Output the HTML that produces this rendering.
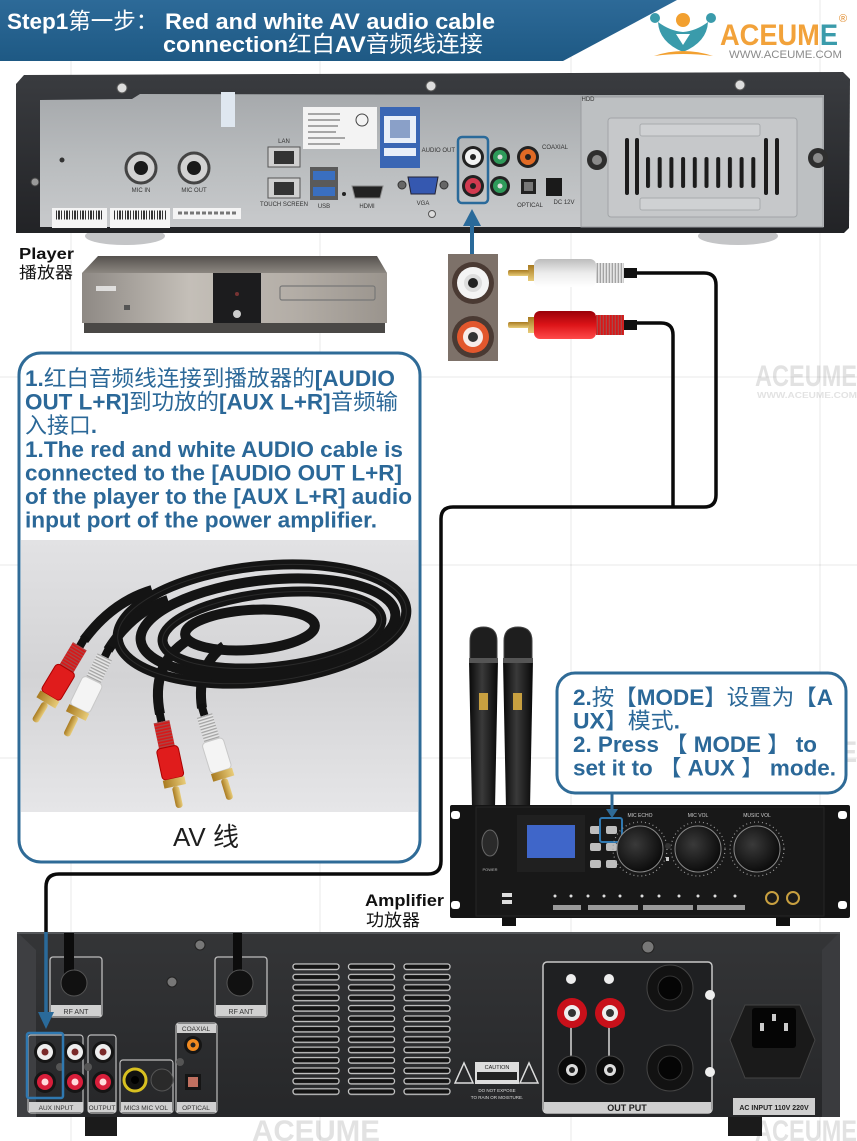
<!DOCTYPE html>
<html>
<head>
<meta charset="utf-8">
<style>
html,body{margin:0;padding:0;background:#fff;}
svg{display:block;}
text{font-family:"Liberation Sans","Noto Sans CJK SC",sans-serif;}
.n{font-weight:normal;}
.t{font-size:6px;fill:#333;text-anchor:middle;}
</style>
</head>
<body>
<svg width="857" height="1141" viewBox="0 0 857 1141" xmlns="http://www.w3.org/2000/svg">
<defs>
  <linearGradient id="hdr" x1="0" y1="0" x2="0" y2="1">
    <stop offset="0" stop-color="#2d6a98"/><stop offset="1" stop-color="#1e5984"/>
  </linearGradient>
  <linearGradient id="silver" x1="0" y1="0" x2="0" y2="1">
    <stop offset="0" stop-color="#a6a9ac"/><stop offset="0.5" stop-color="#b9bcbe"/><stop offset="1" stop-color="#c8cacc"/>
  </linearGradient>
  <linearGradient id="frame" x1="0" y1="0" x2="0" y2="1">
    <stop offset="0" stop-color="#3a3c40"/><stop offset="1" stop-color="#222326"/>
  </linearGradient>
  <linearGradient id="ptop" x1="0" y1="0" x2="0" y2="1">
    <stop offset="0" stop-color="#55514e"/><stop offset="1" stop-color="#8c8781"/>
  </linearGradient>
  <linearGradient id="pfront" x1="0" y1="0" x2="1" y2="0">
    <stop offset="0" stop-color="#8e8984"/><stop offset="0.35" stop-color="#c4bfb8"/><stop offset="0.7" stop-color="#b3ada6"/><stop offset="1" stop-color="#9a948d"/>
  </linearGradient>
  <linearGradient id="avbg" x1="0" y1="0" x2="0" y2="1">
    <stop offset="0" stop-color="#e2e2e4"/><stop offset="0.5" stop-color="#d3d3d5"/><stop offset="1" stop-color="#e6e6e8"/>
  </linearGradient>
  <linearGradient id="wshell" x1="0" y1="0" x2="0" y2="1">
    <stop offset="0" stop-color="#ffffff"/><stop offset="0.5" stop-color="#ececec"/><stop offset="1" stop-color="#bdbdbd"/>
  </linearGradient>
  <linearGradient id="rshell" x1="0" y1="0" x2="0" y2="1">
    <stop offset="0" stop-color="#ff4a4a"/><stop offset="0.5" stop-color="#dd1418"/><stop offset="1" stop-color="#9a0008"/>
  </linearGradient>
  <linearGradient id="gold" x1="0" y1="0" x2="0" y2="1">
    <stop offset="0" stop-color="#e8cc7a"/><stop offset="1" stop-color="#a87a20"/>
  </linearGradient>
  <linearGradient id="amp" x1="0" y1="0" x2="0" y2="1">
    <stop offset="0" stop-color="#343537"/><stop offset="1" stop-color="#262729"/>
  </linearGradient>
  <linearGradient id="mic" x1="0" y1="0" x2="1" y2="0">
    <stop offset="0" stop-color="#080808"/><stop offset="0.45" stop-color="#3a3a3a"/><stop offset="1" stop-color="#080808"/>
  </linearGradient>
  <radialGradient id="knob" cx="0.4" cy="0.4" r="0.7">
    <stop offset="0" stop-color="#3a3a3a"/><stop offset="1" stop-color="#050505"/>
  </radialGradient>
  <pattern id="vent" x="292" y="962" width="55.5" height="10.4" patternUnits="userSpaceOnUse">
    <rect x="1" y="2" width="46" height="5.5" rx="2.5" fill="#141414" stroke="#c4c4c4" stroke-width="1.3"/>
  </pattern>
  <pattern id="hslot" x="646" y="157" width="11.7" height="31" patternUnits="userSpaceOnUse">
    <rect x="0" y="0" width="4" height="31" rx="2" fill="#1c1c1c"/>
  </pattern>
  <pattern id="ridge" x="0" y="0" width="3" height="10" patternUnits="userSpaceOnUse">
    <rect x="0" y="0" width="1.3" height="10" fill="#777"/>
  </pattern>
  <g id="plugW">
    <rect x="0" y="-4" width="12" height="8" fill="#111"/>
    <rect x="12" y="-8" width="26" height="16" fill="#e6e6e6"/>
    <rect x="12" y="-8" width="26" height="16" fill="url(#ridge)" opacity="0.6"/>
    <rect x="38" y="-11" width="32" height="22" rx="4" fill="#f4f4f4" stroke="#c8c8c8"/>
    <rect x="70" y="-11" width="8" height="22" fill="url(#gold)"/>
    <rect x="78" y="-3.5" width="22" height="7" rx="3" fill="url(#gold)"/>
  </g>
  <g id="plugR">
    <rect x="0" y="-4" width="12" height="8" fill="#111"/>
    <rect x="12" y="-8" width="26" height="16" fill="#d81818"/>
    <rect x="12" y="-8" width="26" height="16" fill="url(#ridge)" opacity="0.5"/>
    <rect x="38" y="-11" width="32" height="22" rx="4" fill="#e01c1c" stroke="#a00"/>
    <rect x="70" y="-11" width="8" height="22" fill="url(#gold)"/>
    <rect x="78" y="-3.5" width="22" height="7" rx="3" fill="url(#gold)"/>
  </g>
</defs>

<rect width="857" height="1141" fill="#fff"/>

<!-- faint grid lines -->
<g stroke="#000" stroke-opacity="0.09" stroke-width="1">
  <line x1="71" y1="0" x2="71" y2="1141"/>
  <line x1="320" y1="0" x2="320" y2="1141"/>
  <line x1="571" y1="0" x2="571" y2="1141"/>
  <line x1="820" y1="0" x2="820" y2="1141"/>
  <line x1="0" y1="377" x2="857" y2="377"/>
  <line x1="0" y1="565" x2="857" y2="565"/>
  <line x1="0" y1="758" x2="857" y2="758"/>
</g>

<!-- watermarks -->
<g fill="#9a9a9a" opacity="0.28" font-weight="bold">
  <text x="755" y="386" font-size="30" textLength="102" lengthAdjust="spacingAndGlyphs">ACEUME</text>
  <text x="757" y="398" font-size="8" textLength="100" lengthAdjust="spacingAndGlyphs">WWW.ACEUME.COM</text>
  <text x="252" y="762" font-size="30" textLength="128" lengthAdjust="spacingAndGlyphs">ACEUME</text>
  <text x="258" y="776" font-size="8" textLength="120" lengthAdjust="spacingAndGlyphs">WWW.ACEUME.COM</text>
  <text x="755" y="762" font-size="30" textLength="102" lengthAdjust="spacingAndGlyphs">ACEUME</text>
  <text x="252" y="1141" font-size="30" textLength="128" lengthAdjust="spacingAndGlyphs">ACEUME</text>
  <text x="755" y="1141" font-size="30" textLength="102" lengthAdjust="spacingAndGlyphs">ACEUME</text>
</g>

<!-- HEADER -->
<polygon points="0,0 677,0 563,61 0,61" fill="url(#hdr)"/>
<text x="7" y="29" font-size="22.5" font-weight="bold" fill="#fff">Step1<tspan class="n">第一步：</tspan></text>
<text x="165" y="29" font-size="22.5" font-weight="bold" fill="#fff" textLength="330" lengthAdjust="spacingAndGlyphs">Red and white AV audio cable</text>
<text x="163" y="52" font-size="22.5" font-weight="bold" fill="#fff" textLength="320" lengthAdjust="spacingAndGlyphs">connection<tspan class="n">红白</tspan>AV<tspan class="n">音频线连接</tspan></text>

<!-- LOGO -->
<g>
  <circle cx="655" cy="18" r="5" fill="#3a9bab"/>
  <circle cx="711" cy="18" r="5" fill="#3a9bab"/>
  <circle cx="683" cy="20" r="7" fill="#f2a030"/>
  <path d="M658,22 Q670,31 683,32 Q696,31 708,22 Q707,42 683,52 Q659,42 658,22 Z" fill="#3a9bab"/>
  <polygon points="676,34 690,34 683,45" fill="#fff"/>
  <path d="M654,56 Q683,46 713,56 Q683,52 654,56 Z" fill="#f2a030"/>
  <text x="720" y="45" font-family="Liberation Serif" font-size="30" font-weight="bold" fill="#f2a23a" textLength="118" lengthAdjust="spacingAndGlyphs">ACEUM<tspan fill="#3a9bab">E</tspan></text>
  <text x="839" y="22" font-size="11" fill="#e08a2a">®</text>
  <text x="729" y="58" font-family="Liberation Serif" font-size="11" fill="#8a8a8a" textLength="113" lengthAdjust="spacingAndGlyphs">WWW.ACEUME.COM</text>
</g>

<!-- PLAYER BACK -->
<g>
  <ellipse cx="125" cy="236" rx="40" ry="9" fill="#c4c5c7"/>
  <ellipse cx="738" cy="236" rx="40" ry="9" fill="#c4c5c7"/>
  <path d="M16,84 L24,75 L843,72 L850,79 L849,228 L844,233 L16,233 Z" fill="url(#frame)"/>
  <path d="M40,100 L40,227 L824,227 L824,95 L600,95 L140,94 L132,99 Z" fill="url(#silver)"/>
  <rect x="581" y="97" width="242" height="130" fill="#bdc0c2" stroke="#9a9da0"/>
  <rect x="608" y="118" width="189" height="99" rx="3" fill="#c6c8ca" stroke="#a2a5a8"/>
  <rect x="640" y="124" width="120" height="12" rx="2" fill="#cfd1d3" stroke="#a8abae"/>
  <rect x="640" y="198" width="120" height="12" rx="2" fill="#cfd1d3" stroke="#a8abae"/>
  <rect x="625" y="138" width="4" height="57" rx="2" fill="#1c1c1c"/>
  <rect x="635" y="138" width="4" height="57" rx="2" fill="#1c1c1c"/>
  <rect x="646" y="157" width="117" height="31" fill="url(#hslot)"/>
  <rect x="764" y="138" width="4" height="57" rx="2" fill="#1c1c1c"/>
  <rect x="775" y="138" width="4" height="57" rx="2" fill="#1c1c1c"/>
  <circle cx="597" cy="160" r="10" fill="#2e2e2e"/><circle cx="597" cy="160" r="5" fill="#8a8a8a"/>
  <circle cx="818" cy="158" r="10" fill="#2e2e2e"/><circle cx="818" cy="158" r="5" fill="#8a8a8a"/>
  <text x="588" y="101" class="t">HDD</text>
  <circle cx="122" cy="88" r="5" fill="#ddd" stroke="#555"/>
  <circle cx="431" cy="86" r="5" fill="#ddd" stroke="#555"/>
  <circle cx="740" cy="85" r="5" fill="#ddd" stroke="#555"/>
  <circle cx="35" cy="182" r="4" fill="#999" stroke="#444"/>
  <circle cx="62" cy="160" r="2.5" fill="#333"/>
  <rect x="221" y="92" width="14" height="35" fill="#dfe7f0"/>
  <rect x="303" y="107" width="74" height="42" fill="#f3f3f3"/>
  <g stroke="#777" stroke-width="1.2">
    <line x1="308" y1="114" x2="340" y2="114"/><line x1="308" y1="120" x2="340" y2="120"/><line x1="308" y1="126" x2="338" y2="126"/>
    <line x1="308" y1="132" x2="336" y2="132"/><line x1="308" y1="138" x2="345" y2="138"/><line x1="308" y1="144" x2="340" y2="144"/>
  </g>
  <circle cx="362" cy="120" r="6" fill="none" stroke="#444"/>
  <rect x="380" y="107" width="40" height="61" fill="#3a66b4"/>
  <rect x="384" y="116" width="32" height="27" fill="#e8eef8"/>
  <rect x="390" y="120" width="20" height="18" fill="#8aa0c8"/>
  <rect x="384" y="148" width="32" height="8" fill="#e8eef8"/>
  <rect x="52" y="208" width="55" height="20" fill="#f4f4f4"/>
  <line x1="56" y1="215" x2="103" y2="215" stroke="#333" stroke-width="9" stroke-dasharray="1 1 2 1 1 2"/>
  <rect x="110" y="208" width="60" height="20" fill="#f4f4f4"/>
  <line x1="114" y1="215" x2="166" y2="215" stroke="#333" stroke-width="9" stroke-dasharray="1 2 1 1 2 1"/>
  <rect x="173" y="208" width="68" height="11" fill="#f4f4f4"/>
  <line x1="178" y1="213" x2="236" y2="213" stroke="#777" stroke-width="3" stroke-dasharray="4 2"/>
  <circle cx="141" cy="168" r="15" fill="#d2d2d2" stroke="#444" stroke-width="3"/>
  <circle cx="141" cy="168" r="7" fill="#1a1a1a"/>
  <circle cx="194" cy="168" r="15" fill="#d2d2d2" stroke="#444" stroke-width="3"/>
  <circle cx="194" cy="168" r="7" fill="#1a1a1a"/>
  <text x="141" y="192" class="t">MIC IN</text>
  <text x="194" y="192" class="t">MIC OUT</text>
  <text x="284" y="143" class="t">LAN</text>
  <rect x="268" y="147" width="32" height="20" fill="#cfcfcf" stroke="#555"/>
  <rect x="274" y="151" width="20" height="13" fill="#333"/>
  <rect x="268" y="178" width="32" height="20" fill="#cfcfcf" stroke="#555"/>
  <rect x="274" y="182" width="20" height="13" fill="#333"/>
  <text x="284" y="206" class="t">TOUCH SCREEN</text>
  <rect x="310" y="167" width="28" height="33" fill="#5a5a5a"/>
  <rect x="313" y="171" width="22" height="9" fill="#3a6fc0"/>
  <rect x="313" y="187" width="22" height="9" fill="#3a6fc0"/>
  <text x="324" y="208" class="t">USB</text>
  <circle cx="344" cy="194" r="2" fill="#222"/>
  <path d="M352,186 L383,186 L380,198 L355,198 Z" fill="#222" stroke="#888"/>
  <text x="367" y="208" class="t">HDMI</text>
  <circle cx="402" cy="185" r="4" fill="#666" stroke="#333"/>
  <circle cx="444" cy="185" r="4" fill="#666" stroke="#333"/>
  <path d="M408,177 L438,177 L435,194 L411,194 Z" fill="#3558b0" stroke="#223"/>
  <text x="423" y="205" class="t">VGA</text>
  <circle cx="432" cy="214" r="3.5" fill="#ddd" stroke="#555"/>
  <text x="455" y="152" class="t" style="text-anchor:end">AUDIO OUT</text>
  <circle cx="473" cy="157" r="11" fill="#222"/><circle cx="473" cy="157" r="8" fill="#f2f2f2"/><circle cx="473" cy="157" r="3" fill="#222"/>
  <circle cx="473" cy="186" r="11" fill="#222"/><circle cx="473" cy="186" r="8" fill="#d23a50"/><circle cx="473" cy="186" r="3" fill="#222"/>
  <rect x="458" y="137" width="30" height="66" rx="4" fill="none" stroke="#2a6a9a" stroke-width="2.5"/>
  <circle cx="500" cy="157" r="10" fill="#222"/><circle cx="500" cy="157" r="7" fill="#2e9a5a"/><circle cx="500" cy="157" r="2.5" fill="#ddd"/>
  <circle cx="500" cy="186" r="10" fill="#222"/><circle cx="500" cy="186" r="7" fill="#2e9a5a"/><circle cx="500" cy="186" r="2.5" fill="#ddd"/>
  <circle cx="528" cy="157" r="11" fill="#222"/><circle cx="528" cy="157" r="8" fill="#e06a25"/><circle cx="528" cy="157" r="3" fill="#222"/>
  <text x="555" y="149" class="t">COAXIAL</text>
  <rect x="521" y="179" width="15" height="15" fill="#222"/><rect x="524" y="182" width="9" height="9" fill="#777"/>
  <text x="530" y="207" class="t">OPTICAL</text>
  <rect x="546" y="178" width="16" height="18" fill="#1a1a1a"/>
  <text x="564" y="204" class="t">DC 12V</text>
</g>

<!-- Player label -->
<text x="19" y="259" font-size="16" font-weight="bold" fill="#111" textLength="55" lengthAdjust="spacingAndGlyphs">Player</text>
<text x="19" y="278" font-size="16" fill="#111" textLength="54" lengthAdjust="spacingAndGlyphs">播放器</text>

<!-- small player -->
<g>
  <polygon points="98,256 377,256 387,273 82,273" fill="url(#ptop)"/>
  <rect x="82" y="273" width="305" height="50" fill="url(#pfront)"/>
  <rect x="213" y="273" width="48" height="50" fill="#1c1c1e"/>
  <circle cx="237" cy="314" r="4" fill="#ccc"/>
  <circle cx="237" cy="294" r="2" fill="#733"/>
  <rect x="96" y="286" width="20" height="5" fill="#f0f0f0" opacity="0.8"/>
  <rect x="124" y="305" width="6" height="5" fill="#555"/>
  <g fill="none" stroke="#777" stroke-width="1.2">
    <rect x="280" y="286" width="95" height="14" rx="2"/>
  </g>
  <rect x="84" y="323" width="301" height="10" fill="#4a4846"/>
</g>

<!-- RCA inset -->
<g>
  <rect x="448" y="254" width="50" height="107" fill="#7d7169"/>
  <circle cx="473" cy="283" r="21" fill="#4a3a33"/>
  <circle cx="473" cy="283" r="16" fill="#f4f4f4"/>
  <circle cx="473" cy="283" r="9" fill="#ddd"/>
  <circle cx="473" cy="283" r="5" fill="#222"/>
  <circle cx="473" cy="337" r="21" fill="#4a3a33"/>
  <circle cx="473" cy="337" r="16" fill="#e2572d"/>
  <circle cx="473" cy="337" r="10" fill="#f6ecea"/>
  <circle cx="473" cy="337" r="5" fill="#333"/>
</g>
<line x1="472" y1="254" x2="472" y2="222" stroke="#2a6a9a" stroke-width="4"/>
<polygon points="463,226 481,226 472,209" fill="#2a6a9a"/>

<!-- cable path -->
<path d="M636,273 H704 Q716,273 716,285 V495 Q716,507 704,507 H453 Q441,507 441,519 V861 Q441,874 428,874 H59 Q46,874 46,887 V932" fill="none" stroke="#0a0a0a" stroke-width="3.5"/>
<path d="M636,323 H661 Q673,323 673,335 V507" fill="none" stroke="#0a0a0a" stroke-width="3.5"/>

<!-- plugs (horizontal) -->
<g transform="translate(637,273) rotate(180)">
  <rect x="0" y="-5" width="13" height="10" fill="#111"/>
  <rect x="13" y="-10" width="28" height="20" fill="#e4e4e4"/>
  <rect x="13" y="-10" width="28" height="20" fill="url(#ridge)" opacity="0.6"/>
  <rect x="41" y="-14" width="62" height="28" rx="6" fill="url(#wshell)"/>
  <rect x="103" y="-8" width="6" height="16" fill="url(#gold)"/>
  <rect x="108" y="-3" width="21" height="6" rx="2" fill="url(#gold)"/>
</g>
<g transform="translate(637,325) rotate(180)">
  <rect x="0" y="-5" width="13" height="10" fill="#111"/>
  <rect x="13" y="-10" width="28" height="20" fill="#d81818"/>
  <rect x="13" y="-10" width="28" height="20" fill="url(#ridge)" opacity="0.5"/>
  <rect x="41" y="-14" width="62" height="28" rx="6" fill="url(#rshell)"/>
  <rect x="103" y="-8" width="6" height="16" fill="url(#gold)"/>
  <rect x="108" y="-3" width="21" height="6" rx="2" fill="url(#gold)"/>
</g>

<!-- TEXT BOX 1 -->
<rect x="19" y="353" width="401" height="509" rx="22" fill="#fff" stroke="#2f6b97" stroke-width="3"/>
<g font-size="22" font-weight="bold" fill="#2b6898">
  <text x="25" y="386" textLength="370" lengthAdjust="spacingAndGlyphs">1.<tspan class="n">红白音频线连接到播放器的</tspan>[AUDIO</text>
  <text x="25" y="409.6" textLength="373" lengthAdjust="spacingAndGlyphs">OUT L+R]<tspan class="n">到功放的</tspan>[AUX L+R]<tspan class="n">音频输</tspan></text>
  <text x="25" y="433" textLength="72" lengthAdjust="spacingAndGlyphs"><tspan class="n">入接口</tspan>.</text>
  <text x="25" y="457" textLength="378" lengthAdjust="spacingAndGlyphs">1.The red and white AUDIO cable is</text>
  <text x="25" y="480.5" textLength="377" lengthAdjust="spacingAndGlyphs">connected to the [AUDIO OUT L+R]</text>
  <text x="25" y="504" textLength="387" lengthAdjust="spacingAndGlyphs">of the player to the [AUX L+R] audio</text>
  <text x="25" y="527.5" textLength="352" lengthAdjust="spacingAndGlyphs">input port of the power amplifier.</text>
</g>
<rect x="21" y="540" width="397" height="272" fill="url(#avbg)"/>
<g fill="none" stroke="#141414" stroke-width="10">
  <ellipse cx="262" cy="624" rx="145" ry="58" transform="rotate(-6 262 624)"/>
  <ellipse cx="268" cy="627" rx="128" ry="47" transform="rotate(-6 268 627)"/>
  <ellipse cx="272" cy="630" rx="110" ry="37" transform="rotate(-6 272 630)"/>
  <ellipse cx="250" cy="630" rx="65" ry="20" transform="rotate(-4 250 630)"/>
  <path d="M84,640 Q112,602 152,590"/>
  <path d="M108,650 Q132,612 168,600"/>
  <path d="M160,714 Q150,664 188,640"/>
  <path d="M202,708 Q196,666 224,646"/>
</g>
<g stroke="#3a3a3a" stroke-width="1" fill="none" opacity="0.6">
  <ellipse cx="262" cy="624" rx="145" ry="58" transform="rotate(-6 262 624)"/>
  <ellipse cx="272" cy="630" rx="110" ry="37" transform="rotate(-6 272 630)"/>
</g>
<use href="#plugR" transform="translate(86,636) rotate(121)"/>
<use href="#plugW" transform="translate(110,646) rotate(116)"/>
<use href="#plugR" transform="translate(159,710) rotate(78)"/>
<use href="#plugW" transform="translate(201,704) rotate(73)"/>
<text x="206" y="846" font-size="26" fill="#1e1e1e" text-anchor="middle">AV 线</text>

<!-- MICROPHONES -->
<g>
  <path d="M469,660 L498,660 L495,808 L472,808 Z" fill="url(#mic)"/>
  <path d="M470,660 L470,641 Q470,627 483.5,627 Q497,627 497,641 L497,660 Z" fill="#1e1e1e" stroke="#444"/>
  <rect x="469" y="658" width="29" height="5" fill="#555"/>
  <rect x="479" y="693" width="9" height="17" fill="#c8a040"/>
  <path d="M503,660 L533,660 L530,808 L506,808 Z" fill="url(#mic)"/>
  <path d="M504,660 L504,641 Q504,627 518,627 Q532,627 532,641 L532,660 Z" fill="#1e1e1e" stroke="#444"/>
  <rect x="503" y="658" width="30" height="5" fill="#555"/>
  <rect x="513" y="693" width="9" height="17" fill="#c8a040"/>
</g>

<!-- TEXT BOX 2 -->
<rect x="557" y="673" width="289" height="120" rx="18" fill="#fff" stroke="#2f6b97" stroke-width="3"/>
<g font-size="22" font-weight="bold" fill="#2b6898">
  <text x="573" y="705" textLength="260" lengthAdjust="spacingAndGlyphs">2.<tspan class="n">按【</tspan>MODE<tspan class="n">】设置为【</tspan>A</text>
  <text x="573" y="728.5" textLength="107" lengthAdjust="spacingAndGlyphs">UX<tspan class="n">】模式</tspan>.</text>
  <text x="573" y="752" textLength="244" lengthAdjust="spacingAndGlyphs">2. Press <tspan class="n">【</tspan> MODE <tspan class="n">】</tspan> to</text>
  <text x="573" y="775.5" textLength="263" lengthAdjust="spacingAndGlyphs">set it to <tspan class="n">【</tspan> AUX <tspan class="n">】</tspan> mode.</text>
</g>

<!-- SMALL AMP FRONT -->
<g>
  <rect x="450" y="805" width="400" height="113" rx="2" fill="#141414"/>
  <rect x="476" y="807" width="348" height="109" fill="#181818" stroke="#262626"/>
  <rect x="451" y="811" width="9" height="8" rx="3" fill="#fff"/>
  <rect x="451" y="901" width="9" height="8" rx="3" fill="#fff"/>
  <rect x="838" y="811" width="9" height="8" rx="3" fill="#fff"/>
  <rect x="838" y="901" width="9" height="8" rx="3" fill="#fff"/>
  <ellipse cx="490" cy="843" rx="8" ry="13" fill="#2a2a2a" stroke="#666"/>
  <text x="490" y="871" font-size="4" fill="#bbb" text-anchor="middle">POWER</text>
  <rect x="517" y="815" width="68" height="57" fill="#202020"/>
  <rect x="527" y="825" width="48" height="33" fill="#3f66c9"/>
  <g fill="#bdbdbd">
    <rect x="590" y="826" width="11" height="8" rx="2"/><rect x="606" y="826" width="11" height="8" rx="2"/>
    <rect x="590" y="843" width="11" height="8" rx="2"/><rect x="606" y="843" width="11" height="8" rx="2"/>
    <rect x="590" y="860" width="11" height="8" rx="2"/><rect x="606" y="860" width="11" height="8" rx="2"/>
  </g>
  <rect x="600" y="818" width="22" height="24" rx="2" fill="none" stroke="#2f78b0" stroke-width="2"/>
  <g font-size="5" fill="#ccc" text-anchor="middle">
    <text x="640" y="817">MIC ECHO</text><text x="698" y="817">MIC VOL</text><text x="757" y="817">MUSIC VOL</text>
  </g>
  <g>
    <circle cx="640" cy="849" r="27" fill="none" stroke="#999" stroke-width="1.2" stroke-dasharray="1 3"/>
    <circle cx="640" cy="849" r="23" fill="url(#knob)" stroke="#888"/>
    <circle cx="698" cy="849" r="27" fill="none" stroke="#999" stroke-width="1.2" stroke-dasharray="1 3"/>
    <circle cx="698" cy="849" r="23" fill="url(#knob)" stroke="#888"/>
    <circle cx="757" cy="849" r="27" fill="none" stroke="#999" stroke-width="1.2" stroke-dasharray="1 3"/>
    <circle cx="757" cy="849" r="23" fill="url(#knob)" stroke="#888"/>
    <circle cx="668" cy="846" r="3" fill="#333"/>
    <rect x="666" y="857" width="3" height="4" fill="#ccc"/>
  </g>
  <g fill="#ddd">
    <circle cx="555" cy="896" r="1.5"/><circle cx="571" cy="896" r="1.5"/><circle cx="588" cy="896" r="1.5"/><circle cx="604" cy="896" r="1.5"/>
    <circle cx="620" cy="896" r="1.5"/><circle cx="642" cy="896" r="1.5"/><circle cx="659" cy="896" r="1.5"/><circle cx="679" cy="896" r="1.5"/>
    <circle cx="698" cy="896" r="1.5"/><circle cx="715" cy="896" r="1.5"/><circle cx="735" cy="896" r="1.5"/>
  </g>
  <g fill="#9a9a9a">
    <rect x="553" y="905" width="28" height="5"/><rect x="588" y="905" width="50" height="5"/>
    <rect x="643" y="905" width="50" height="5"/><rect x="697" y="905" width="48" height="5"/>
  </g>
  <rect x="502" y="893" width="10" height="4" fill="#ddd"/><rect x="502" y="900" width="10" height="4" fill="#ddd"/>
  <circle cx="772" cy="898" r="6" fill="#1a1a1a" stroke="#c8a040" stroke-width="2"/>
  <circle cx="793" cy="898" r="6" fill="#1a1a1a" stroke="#c8a040" stroke-width="2"/>
  <rect x="502" y="918" width="14" height="8" fill="#111"/>
  <rect x="776" y="918" width="14" height="8" fill="#111"/>
</g>
<line x1="612" y1="794" x2="612" y2="811" stroke="#2f6b97" stroke-width="3"/>
<polygon points="606,809 618,809 612,818" fill="#2f6b97"/>

<!-- Amplifier label -->
<text x="365" y="906" font-size="17" font-weight="bold" fill="#111" textLength="79" lengthAdjust="spacingAndGlyphs">Amplifier</text>
<text x="366" y="926" font-size="17" fill="#111" textLength="54" lengthAdjust="spacingAndGlyphs">功放器</text>

<!-- BIG AMP REAR -->
<g>
  <rect x="85" y="1112" width="32" height="24" fill="#1b1b1b"/>
  <rect x="728" y="1112" width="34" height="24" fill="#1b1b1b"/>
  <rect x="17" y="932" width="823" height="185" fill="url(#amp)"/>
  <polygon points="17,932 36,950 36,1117 17,1117" fill="#3e3f42"/>
  <polygon points="840,932 822,950 822,1117 840,1117" fill="#3a3b3e"/>
  <line x1="17" y1="933" x2="840" y2="933" stroke="#55575a" stroke-width="2"/>
  <circle cx="200" cy="945" r="5" fill="#777" stroke="#222"/>
  <circle cx="172" cy="982" r="5" fill="#777" stroke="#222"/>
  <circle cx="648" cy="947" r="6" fill="#777" stroke="#222"/>
  <rect x="50" y="957" width="52" height="60" rx="3" fill="none" stroke="#bdbdbd" stroke-width="1.3"/>
  <rect x="51" y="1005" width="50" height="11" fill="#d0d0d0"/>
  <text x="76" y="1014" font-size="7" fill="#333" text-anchor="middle">RF ANT</text>
  <rect x="64" y="933" width="10" height="45" fill="#0c0c0c"/>
  <circle cx="74" cy="983" r="13" fill="#111" stroke="#555"/>
  <rect x="215" y="957" width="52" height="60" rx="3" fill="none" stroke="#bdbdbd" stroke-width="1.3"/>
  <rect x="216" y="1005" width="50" height="11" fill="#d0d0d0"/>
  <text x="241" y="1014" font-size="7" fill="#333" text-anchor="middle">RF ANT</text>
  <rect x="233" y="933" width="9" height="45" fill="#0c0c0c"/>
  <circle cx="240" cy="983" r="13" fill="#111" stroke="#555"/>
  <rect x="28" y="1035" width="55" height="78" rx="3" fill="none" stroke="#bdbdbd" stroke-width="1.2"/>
  <rect x="88" y="1035" width="28" height="78" rx="3" fill="none" stroke="#bdbdbd" stroke-width="1.2"/>
  <rect x="120" y="1060" width="53" height="53" rx="3" fill="none" stroke="#bdbdbd" stroke-width="1.2"/>
  <rect x="176" y="1023" width="41" height="90" rx="3" fill="none" stroke="#bdbdbd" stroke-width="1.2"/>
  <g>
    <circle cx="45" cy="1052" r="11" fill="#151515"/><circle cx="45" cy="1052" r="8" fill="#eee"/><circle cx="45" cy="1052" r="3.5" fill="#7a2a2a"/>
    <circle cx="75" cy="1052" r="11" fill="#151515"/><circle cx="75" cy="1052" r="8" fill="#eee"/><circle cx="75" cy="1052" r="3.5" fill="#7a2a2a"/>
    <circle cx="103" cy="1052" r="11" fill="#151515"/><circle cx="103" cy="1052" r="8" fill="#eee"/><circle cx="103" cy="1052" r="3.5" fill="#7a2a2a"/>
    <circle cx="45" cy="1082" r="11" fill="#151515"/><circle cx="45" cy="1082" r="8" fill="#d81e3a"/><circle cx="45" cy="1082" r="3.5" fill="#fdd"/>
    <circle cx="75" cy="1082" r="11" fill="#151515"/><circle cx="75" cy="1082" r="8" fill="#d81e3a"/><circle cx="75" cy="1082" r="3.5" fill="#fdd"/>
    <circle cx="103" cy="1082" r="11" fill="#151515"/><circle cx="103" cy="1082" r="8" fill="#d81e3a"/><circle cx="103" cy="1082" r="3.5" fill="#fdd"/>
    <circle cx="60" cy="1067" r="4" fill="#555"/><circle cx="88" cy="1067" r="4" fill="#555"/>
  </g>
  <rect x="27" y="1033" width="36" height="65" rx="2" fill="none" stroke="#2f78b0" stroke-width="2.5"/>
  <circle cx="135" cy="1080" r="11" fill="#111" stroke="#d8c020" stroke-width="3"/>
  <circle cx="135" cy="1080" r="4" fill="#000"/>
  <circle cx="162" cy="1080" r="11" fill="#2a2a2a" stroke="#555"/>
  <circle cx="193" cy="1045" r="9" fill="#151515"/><circle cx="193" cy="1045" r="6" fill="#f08a20"/><circle cx="193" cy="1045" r="2.5" fill="#222"/>
  <circle cx="180" cy="1062" r="4" fill="#555"/>
  <rect x="185" y="1074" width="16" height="16" fill="#151515"/><rect x="188" y="1077" width="10" height="10" fill="#c07060"/>
  <g fill="#d0d0d0">
    <rect x="29" y="1102" width="54" height="10"/><rect x="88" y="1102" width="28" height="10"/>
    <rect x="121" y="1102" width="51" height="10"/><rect x="177" y="1102" width="39" height="10"/>
    <rect x="177" y="1024" width="39" height="9"/>
  </g>
  <g font-size="6.5" fill="#333" text-anchor="middle">
    <text x="56" y="1110">AUX INPUT</text><text x="102" y="1110">OUTPUT</text>
    <text x="146" y="1110">MIC3 MIC VOL</text><text x="196" y="1110">OPTICAL</text>
    <text x="196" y="1031">COAXIAL</text>
  </g>
  <rect x="292" y="962" width="163" height="136" fill="url(#vent)"/>
  <polygon points="455,1083 464,1063 473,1083" fill="none" stroke="#ddd" stroke-width="1.5"/>
  <rect x="475" y="1062" width="44" height="22" fill="#ddd"/>
  <text x="497" y="1069" font-size="5.5" fill="#222" text-anchor="middle">CAUTION</text>
  <rect x="477" y="1072" width="40" height="8" fill="#222"/>
  <polygon points="520,1083 529,1063 538,1083" fill="none" stroke="#ddd" stroke-width="1.5"/>
  <text x="497" y="1092" font-size="4.5" fill="#ddd" text-anchor="middle">DO NOT EXPOSE</text>
  <text x="497" y="1099" font-size="4.5" fill="#ddd" text-anchor="middle">TO RAIN OR MOISTURE.</text>
  <rect x="543" y="962" width="169" height="151" rx="4" fill="#1f2022" stroke="#c8c8c8" stroke-width="1.5"/>
  <rect x="544" y="1102" width="167" height="11" fill="#cfcfcf"/>
  <text x="627" y="1111" font-size="9" font-weight="bold" fill="#222" text-anchor="middle">OUT PUT</text>
  <circle cx="571" cy="979" r="5" fill="#eee"/><circle cx="609" cy="979" r="5" fill="#eee"/>
  <line x1="571" y1="1025" x2="571" y2="1060" stroke="#aaa" stroke-width="2"/>
  <line x1="609" y1="1025" x2="609" y2="1060" stroke="#aaa" stroke-width="2"/>
  <circle cx="572" cy="1013" r="15" fill="#c8101a"/><circle cx="572" cy="1013" r="8" fill="#eee"/><circle cx="572" cy="1013" r="4" fill="#333"/>
  <circle cx="610" cy="1013" r="15" fill="#c8101a"/><circle cx="610" cy="1013" r="8" fill="#eee"/><circle cx="610" cy="1013" r="4" fill="#333"/>
  <circle cx="572" cy="1070" r="14" fill="#0a0a0a" stroke="#444"/><circle cx="572" cy="1070" r="6" fill="#ddd"/><circle cx="572" cy="1070" r="3" fill="#222"/>
  <circle cx="610" cy="1070" r="14" fill="#0a0a0a" stroke="#444"/><circle cx="610" cy="1070" r="6" fill="#ddd"/><circle cx="610" cy="1070" r="3" fill="#222"/>
  <circle cx="670" cy="988" r="23" fill="#121212" stroke="#444"/><circle cx="670" cy="988" r="12" fill="#050505" stroke="#333"/>
  <circle cx="670" cy="1068" r="23" fill="#121212" stroke="#444"/><circle cx="670" cy="1068" r="12" fill="#050505" stroke="#333"/>
  <circle cx="710" cy="995" r="5" fill="#eee"/><circle cx="710" cy="1072" r="5" fill="#eee"/>
  <polygon points="745,1005 800,1005 815,1040 800,1078 745,1078 730,1040" fill="#1a1a1a" stroke="#444"/>
  <rect x="752" y="1008" width="44" height="40" rx="3" fill="#050505"/>
  <rect x="760" y="1023" width="4" height="8" fill="#ccc"/><rect x="784" y="1023" width="4" height="8" fill="#ccc"/><rect x="772" y="1014" width="4" height="7" fill="#ccc"/>
  <rect x="733" y="1098" width="82" height="17" fill="#cfcfcf"/>
  <text x="774" y="1110" font-size="7" font-weight="bold" fill="#222" text-anchor="middle">AC INPUT 110V 220V</text>
  <line x1="46" y1="932" x2="46" y2="1015" stroke="#2a6a9a" stroke-width="3.5"/>
  <polygon points="38,1012 54,1012 46,1029" fill="#2a6a9a"/>
</g>
</svg>
</body>
</html>
